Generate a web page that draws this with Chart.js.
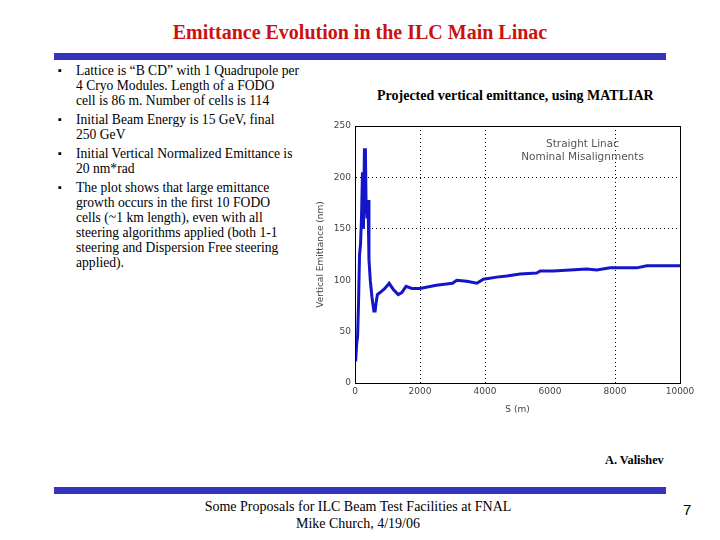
<!DOCTYPE html>
<html>
<head>
<meta charset="utf-8">
<script src="https://cdn.jsdelivr.net/npm/chart.js@4.4.0/dist/chart.umd.min.js"></script>
<style>
  body { margin:0; width:720px; height:540px; background:#fff; position:relative; overflow:hidden; font-family:"Liberation Serif","Times New Roman",serif; }
  .abs { position:absolute; }
  #title { left:0; width:720px; top:21px; text-align:center; color:#cc1111; font-weight:bold; font-size:20px; }
  .bar { left:54px; width:612px; height:7px; background:#3333bb; }
  #bullets { left:60px; top:63px; width:260px; font-size:13.6px; line-height:15px; color:#000; white-space:nowrap; }
  #bullets .b { position:relative; padding-left:16px; margin-bottom:4px; }
  #bullets .b:before { content:"\25AA"; position:absolute; left:-2px; top:0; font-size:11px; }
  #sub { left:377px; top:88px; font-weight:bold; font-size:14px; }
  #auth { left:605px; top:453px; font-weight:bold; font-size:12.3px; }
  #foot { left:0; width:716px; top:498px; text-align:center; font-size:14px; line-height:17px; }
  #page { left:683px; top:501px; font-family:"Liberation Sans",Arial,sans-serif; font-size:15px; }
  #wrap { left:315px; top:115px; width:385px; height:300px; }
</style>
</head>
<body>
<div id="title" class="abs">Emittance Evolution in the ILC Main Linac</div>
<div class="abs bar" style="top:53px"></div>
<div id="bullets" class="abs">
  <div class="b">Lattice is &#8220;B CD&#8221; with 1 Quadrupole per<br>4 Cryo Modules. Length of a FODO<br>cell is 86 m. Number of cells is 114</div>
  <div class="b">Initial Beam Energy is 15 GeV, final<br>250 GeV</div>
  <div class="b">Initial Vertical Normalized Emittance is<br>20 nm*rad</div>
  <div class="b">The plot shows that large emittance<br>growth occurs in the first 10 FODO<br>cells (~1 km length), even with all<br>steering algorithms applied (both 1-1<br>steering and Dispersion Free steering<br>applied).</div>
</div>
<div id="sub" class="abs">Projected vertical emittance, using MATLIAR</div>
<div id="wrap" class="abs"><canvas id="graphique" width="385" height="300"></canvas></div>
<div id="auth" class="abs">A. Valishev</div>
<div class="abs bar" style="top:487px"></div>
<div id="foot" class="abs">Some Proposals for ILC Beam Test Facilities at FNAL<br>Mike Church, 4/19/06</div>
<div id="page" class="abs">7</div>
<script>
// S position along the linac (m) and vertical emittance (nm)
var sPos = [20, 50, 80, 110, 140, 170, 200, 230, 260, 290, 320, 340, 370, 400, 430, 470, 520, 580, 620, 650, 690, 770, 920, 1050, 1180, 1330, 1440, 1570, 1750, 2000, 2500, 3000, 3130, 3440, 3750, 3950, 4360, 4670, 5080, 5590, 5700, 6100, 6620, 7130, 7440, 7850, 8670, 8980, 10000];
var emit = [21, 38, 45, 80, 125, 135, 160, 205, 150, 227, 227, 175, 160, 178, 120, 100, 84, 70, 70, 78, 86, 88, 92, 97, 91, 86, 88, 94, 92, 92, 95, 97, 100, 99, 97, 101, 103, 104, 106, 107, 109, 109, 110, 111, 110, 112, 112, 114, 114];
var xTicks = [0, 2000, 4000, 6000, 8000, 10000];
var yTicks = [0, 50, 100, 150, 200, 250];
var xGrid = [2000, 4000, 8000];
var yGrid = [150, 200];
var notes = ["Straight Linac", "Nominal Misalignments"];

var points = [];
for (var i in sPos) {
  points.push({x: sPos[i], y: emit[i]});
}

var boxPlugin = {
  id: 'box',
  afterDraw: function(chart) {
    var ctx = chart.ctx, a = chart.chartArea;
    ctx.save();
    ctx.strokeStyle = '#000';
    ctx.lineWidth = 1;
    ctx.strokeRect(a.left + 0.5, a.top + 0.5, a.right - a.left, a.bottom - a.top);
    ctx.fillStyle = '#555';
    ctx.font = '10.5px "DejaVu Sans", sans-serif';
    ctx.textAlign = 'center';
    var xs = chart.scales.x, ys = chart.scales.y;
    ctx.fillText(notes[0], xs.getPixelForValue(7000), ys.getPixelForValue(230));
    ctx.fillText(notes[1], xs.getPixelForValue(7000), ys.getPixelForValue(217));
    ctx.restore();
  }
};

var ctx = document.getElementById('graphique');
var lineChart = new Chart(ctx, {
  type: 'line',
  data: {
    datasets: [{
      data: points,
      borderColor: 'rgb(20, 20, 200)',
      borderWidth: 3,
      pointRadius: 0,
      tension: 0,
      fill: false
    }]
  },
  options: {
    responsive: false,
    animation: false,
    layout: { padding: { top: 11, right: 20, left: 0, bottom: 0 } },
    plugins: { legend: { display: false }, tooltip: { enabled: false } },
    scales: {
      x: {
        type: 'linear',
        min: 0, max: 10000,
        afterBuildTicks: function(s) { s.ticks = xTicks.map(function(v) { return {value: v}; }); },
        afterFit: function(s) { s.height = 32; },
        border: { display: true, color: '#000', dash: [1, 3] },
        grid: {
          drawTicks: false,
          color: function(c) { return xGrid.indexOf(c.tick.value) >= 0 ? '#000' : 'rgba(0,0,0,0)'; }
        },
        ticks: {
          color: '#444', font: { family: 'DejaVu Sans', size: 9 }, padding: 3, maxRotation: 0,
          callback: function(v) { return String(v); }
        },
        title: { display: true, text: 'S (m)', color: '#444', font: { family: 'DejaVu Sans', size: 9 }, padding: 0 }
      },
      y: {
        min: 0, max: 250,
        afterBuildTicks: function(s) { s.ticks = yTicks.map(function(v) { return {value: v}; }); },
        afterFit: function(s) { s.width = 40; },
        border: { display: true, color: '#000', dash: [1, 3] },
        grid: {
          drawTicks: false,
          color: function(c) { return yGrid.indexOf(c.tick.value) >= 0 ? '#000' : 'rgba(0,0,0,0)'; }
        },
        ticks: { color: '#444', font: { family: 'DejaVu Sans', size: 9 }, padding: 4 },
        title: { display: true, text: 'Vertical Emittance (nm)', color: '#444', font: { family: 'DejaVu Sans', size: 9 }, padding: 0 }
      }
    }
  },
  plugins: [boxPlugin]
});
</script>
</body>
</html>
